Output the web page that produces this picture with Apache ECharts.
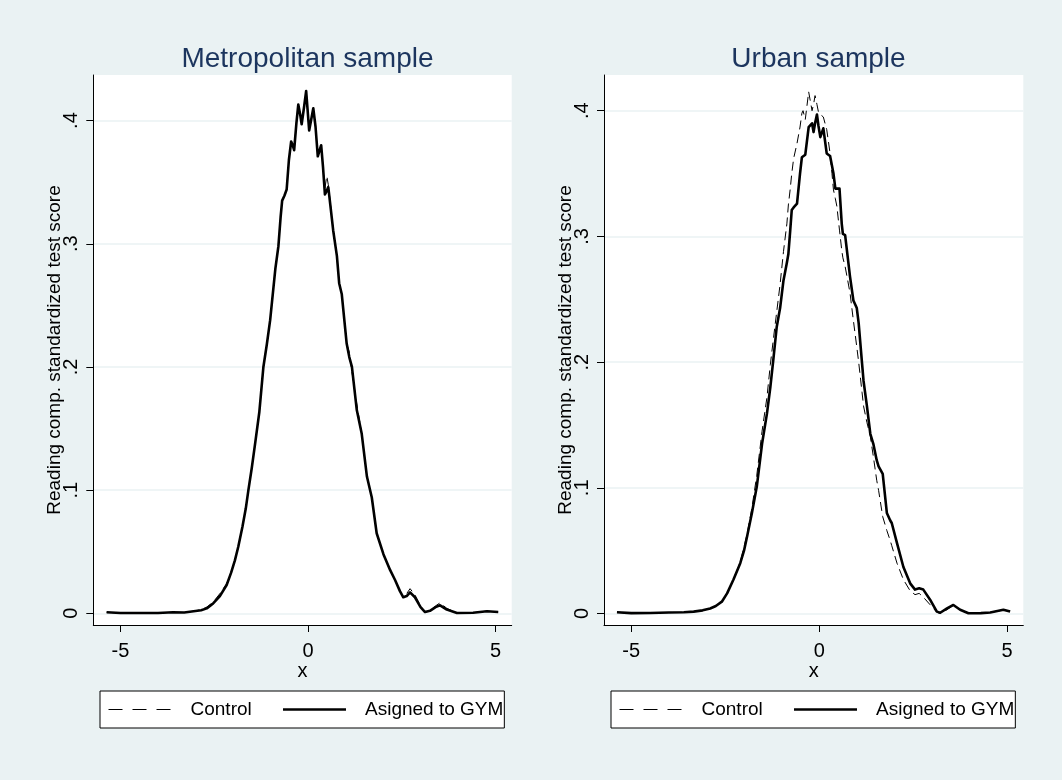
<!DOCTYPE html>
<html>
<head>
<meta charset="UTF-8">
<title>Reading comp. density</title>
<script type="text/javascript" src="https://cdn.jsdelivr.net/npm/echarts@6/dist/echarts.min.js"></script>
</head>
<body style="margin:0;background:#EAF2F3;">
<div id="box" style="width:1062px;height:780px;"></div>
<script type="text/javascript">
// Metropolitan sample (left panel)
var metroX = [-5.37, -5.0, -4.5, -4.0, -3.6, -3.3, -3.0, -2.85, -2.7, -2.53, -2.35, -2.17, -2.05, -1.95, -1.86, -1.75, -1.66, -1.59, -1.5, -1.41,
	-1.3, -1.19, -1.1, -1.01, -0.95, -0.87, -0.79, -0.73, -0.69, -0.63, -0.57, -0.51, -0.45, -0.41, -0.37, -0.31, -0.26, -0.21, -0.17, -0.11,
	-0.05, 0.03, 0.08, 0.14, 0.2, 0.26, 0.35, 0.4, 0.45, 0.5, 0.54, 0.6, 0.67, 0.77, 0.83, 0.9, 1.03, 1.1, 1.17, 1.3,
	1.43, 1.57, 1.7, 1.83, 2.01, 2.19, 2.32, 2.45, 2.54, 2.63, 2.72, 2.85, 3.0, 3.12, 3.25, 3.4, 3.52, 3.7, 3.97, 4.4,
	4.77, 5.07];
var metroGym = [0.0008, 0.0003, 0.0002, 0.0003, 0.0008, 0.0006, 0.0018, 0.0025, 0.004, 0.008, 0.014, 0.023, 0.033, 0.043, 0.054, 0.070, 0.085, 0.100, 0.118, 0.138,
	0.163, 0.200, 0.218, 0.238, 0.256, 0.280, 0.298, 0.322, 0.335, 0.339, 0.344, 0.368, 0.383, 0.380, 0.376, 0.398, 0.413, 0.405, 0.397, 0.410,
	0.424, 0.392, 0.400, 0.410, 0.395, 0.371, 0.380, 0.362, 0.340, 0.343, 0.346, 0.330, 0.311, 0.290, 0.268, 0.259, 0.219, 0.208, 0.200, 0.165,
	0.146, 0.111, 0.094, 0.065, 0.048, 0.035, 0.027, 0.018, 0.013, 0.014, 0.017, 0.013, 0.005, 0.001, 0.002, 0.005, 0.0065, 0.003, 0.0003, 0.0005,
	0.0016, 0.001];
var metroCtrl = [0.0008, 0.0003, 0.0002, 0.0003, 0.0008, 0.0006, 0.002, 0.003, 0.005, 0.009, 0.016, 0.024, 0.033, 0.043, 0.054, 0.070, 0.085, 0.100, 0.118, 0.138,
	0.163, 0.200, 0.218, 0.238, 0.256, 0.280, 0.298, 0.322, 0.335, 0.339, 0.344, 0.368, 0.383, 0.380, 0.376, 0.398, 0.413, 0.405, 0.397, 0.410,
	0.424, 0.392, 0.400, 0.410, 0.395, 0.371, 0.380, 0.362, 0.345, 0.355, 0.348, 0.332, 0.311, 0.290, 0.268, 0.259, 0.219, 0.212, 0.196, 0.170,
	0.146, 0.111, 0.094, 0.065, 0.048, 0.035, 0.027, 0.018, 0.013, 0.016, 0.020, 0.015, 0.006, 0.001, 0.002, 0.006, 0.0085, 0.004, 0.0003, 0.0005,
	0.0018, 0.001];

// Urban sample (right panel)
var urbanX = [-5.38, -5.0, -4.5, -4.0, -3.6, -3.34, -3.1, -2.9, -2.75, -2.59, -2.45, -2.28, -2.1, -2.0, -1.92, -1.79, -1.66, -1.52, -1.39, -1.3,
	-1.22, -1.13, -1.04, -0.95, -0.86, -0.82, -0.77, -0.73, -0.68, -0.59, -0.51, -0.46, -0.43, -0.37, -0.28, -0.19, -0.15, -0.11, -0.06, -0.02,
	0.03, 0.11, 0.2, 0.29, 0.34, 0.38, 0.43, 0.47, 0.54, 0.6, 0.63, 0.69, 0.74, 0.82, 0.91, 1.0, 1.05, 1.14, 1.18, 1.27,
	1.36, 1.44, 1.53, 1.58, 1.69, 1.8, 1.89, 1.93, 2.07, 2.24, 2.42, 2.55, 2.66, 2.77, 2.95, 3.13, 3.22, 3.4, 3.57, 3.75,
	3.97, 4.3, 4.55, 4.9, 5.08];
var urbanGym = [0.001, 0.0003, 0.0004, 0.0008, 0.001, 0.0015, 0.0025, 0.004, 0.006, 0.0094, 0.016, 0.027, 0.040, 0.050, 0.061, 0.080, 0.101, 0.135, 0.159, 0.180,
	0.202, 0.228, 0.243, 0.265, 0.279, 0.286, 0.305, 0.321, 0.323, 0.326, 0.350, 0.363, 0.364, 0.365, 0.387, 0.390, 0.383, 0.390, 0.397, 0.388,
	0.379, 0.386, 0.366, 0.364, 0.365, 0.350, 0.338, 0.339, 0.338, 0.310, 0.302, 0.301, 0.300, 0.268, 0.249, 0.243, 0.231, 0.199, 0.185, 0.165,
	0.143, 0.135, 0.122, 0.117, 0.111, 0.080, 0.074, 0.072, 0.056, 0.037, 0.024, 0.019, 0.020, 0.019, 0.011, 0.0015, 0.0006, 0.004, 0.0068, 0.003,
	0.0002, 0.0003, 0.0008, 0.003, 0.0015];
var urbanCtrl = [0.001, 0.0003, 0.0004, 0.0008, 0.001, 0.0015, 0.0025, 0.004, 0.006, 0.0095, 0.016, 0.027, 0.041, 0.053, 0.063, 0.084, 0.110, 0.145, 0.172, 0.198,
	0.218, 0.240, 0.262, 0.288, 0.310, 0.325, 0.338, 0.350, 0.362, 0.374, 0.387, 0.398, 0.400, 0.393, 0.415, 0.400, 0.405, 0.412, 0.405, 0.399,
	0.397, 0.395, 0.385, 0.366, 0.350, 0.337, 0.330, 0.324, 0.305, 0.289, 0.283, 0.276, 0.268, 0.255, 0.233, 0.212, 0.200, 0.176, 0.165, 0.152,
	0.141, 0.125, 0.106, 0.098, 0.077, 0.066, 0.058, 0.054, 0.040, 0.027, 0.018, 0.015, 0.016, 0.013, 0.007, 0.001, 0.0, 0.003, 0.0065, 0.003,
	0.0, 0.0003, 0.0008, 0.0028, 0.0015];

var panelTitles = ['Metropolitan sample', 'Urban sample'];
var seriesNames = ['Control', 'Asigned to GYM'];
var xTicks = [-5, 0, 5];
var yTicks = [0, 0.1, 0.2, 0.3, 0.4];

var font = '"Liberation Sans", Arial, sans-serif';
var bg = '#EAF2F3';

function pairs(xs, ys) {
	var out = [];
	for (var i = 0; i < xs.length; i++) out.push([xs[i], ys[i]]);
	return out;
}

function yFmt(v) {
	if (v === 0) return '0';
	return String(v).replace(/^0/, '');
}

function makeX(idx) {
	return {
		type: 'value', gridIndex: idx, min: -5.725, max: 5.43,
		name: 'x', nameLocation: 'middle', nameGap: 36, nameMoveOverlap: false,
		nameTextStyle: {color: '#000', fontSize: 20, fontFamily: font},
		axisLine: {show: true, onZero: false, lineStyle: {color: '#000', width: 1}},
		axisTick: {show: true, length: 7, customValues: xTicks, lineStyle: {color: '#000'}},
		axisLabel: {customValues: xTicks, margin: 16, color: '#000', fontSize: 20, fontFamily: font},
		splitLine: {show: false}
	};
}

function makeY(idx, min, max) {
	return {
		type: 'value', gridIndex: idx, min: min, max: max,
		name: 'Reading comp. standardized test score', nameLocation: 'middle', nameRotate: 90,
		nameGap: 29, nameMoveOverlap: false,
		nameTextStyle: {color: '#000', fontSize: 19, fontFamily: font},
		axisLine: {show: true, onZero: false, lineStyle: {color: '#000', width: 1}},
		axisTick: {show: true, length: 7, customValues: yTicks, lineStyle: {color: '#000'}},
		axisLabel: {customValues: yTicks, rotate: 90, margin: 12, formatter: yFmt,
			color: '#000', fontSize: 20, fontFamily: font},
		splitLine: {show: true, lineStyle: {color: bg, width: 1.5}}
	};
}

function makeLegend(left) {
	return {
		left: left, top: 691, orient: 'horizontal',
		data: [
			{name: 'Control', lineStyle: {type: [14, 10], width: 1, color: '#000'}},
			{name: 'Asigned to GYM', lineStyle: {type: 'solid', width: 2.5, color: '#000'}}
		],
		itemWidth: 63, itemHeight: 14, itemGap: 30,
		padding: [8, 1, 8, 8],
		backgroundColor: '#fff', borderColor: '#000', borderWidth: 1, borderRadius: 0,
		itemStyle: {color: 'transparent', borderColor: 'transparent', borderWidth: 0, opacity: 0},
		textStyle: {color: '#000', fontSize: 19, fontFamily: font, lineHeight: 21, padding: [0, 0, 0, 14]},
		selectedMode: false
	};
}

function ctrlSeries(idx, data) {
	return {
		name: seriesNames[0], type: 'line', xAxisIndex: idx, yAxisIndex: idx,
		data: data, symbol: 'none', smooth: false, animation: false,
		lineStyle: {color: '#000', width: 1, type: [9, 5]}, z: 2
	};
}

function gymSeries(idx, data) {
	return {
		name: seriesNames[1], type: 'line', xAxisIndex: idx, yAxisIndex: idx,
		data: data, symbol: 'none', smooth: false, animation: false,
		lineStyle: {color: '#000', width: 2.6, type: 'solid', join: 'round'}, z: 3
	};
}

var mychart = echarts.init(document.getElementById('box'), null, {renderer: 'canvas'});
var option = {
	backgroundColor: bg,
	animation: false,
	title: [
		{text: panelTitles[0], left: 302.5, top: 40, textAlign: 'center',
			textStyle: {color: '#1c355e', fontSize: 28, fontWeight: 'normal', fontFamily: font}},
		{text: panelTitles[1], left: 813.5, top: 40, textAlign: 'center',
			textStyle: {color: '#1c355e', fontSize: 28, fontWeight: 'normal', fontFamily: font}}
	],
	legend: [makeLegend(100), makeLegend(611)],
	tooltip: {show: false},
	grid: [
		{left: 93.3, top: 75, width: 418.4, height: 550, show: true, backgroundColor: '#fff', borderWidth: 0, containLabel: false},
		{left: 604, top: 75, width: 419.3, height: 550, show: true, backgroundColor: '#fff', borderWidth: 0, containLabel: false}
	],
	xAxis: [makeX(0), makeX(1)],
	yAxis: [makeY(0, -0.0095, 0.437), makeY(1, -0.00915, 0.4284)],
	series: [
		ctrlSeries(0, pairs(metroX, metroCtrl)),
		gymSeries(0, pairs(metroX, metroGym)),
		ctrlSeries(1, pairs(urbanX, urbanCtrl)),
		gymSeries(1, pairs(urbanX, urbanGym))
	]
};
mychart.setOption(option);
</script>
</body>
</html>
